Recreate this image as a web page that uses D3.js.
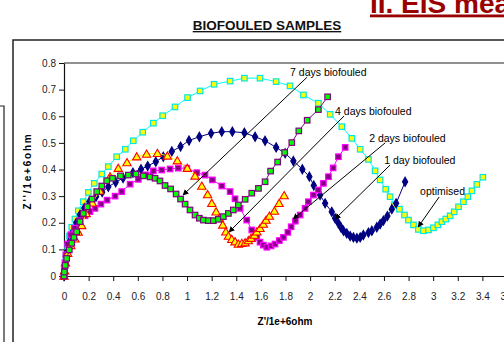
<!DOCTYPE html>
<html>
<head>
<meta charset="utf-8">
<script src="https://cdn.jsdelivr.net/npm/d3@7"></script>
<style>
  html, body { margin: 0; padding: 0; background: #fff; }
  svg { display: block; font-family: "Liberation Sans", Arial, sans-serif; }
</style>
</head>
<body>
<svg id="chart" width="504" height="342"></svg>
<script>
// Nyquist data, Z' and Z'' in 1e+6 ohm
const optimised = [[0,0],[0.005,0.03],[0.015,0.07],[0.03,0.11],[0.045,0.15],[0.063,0.183],[0.089,0.214],[0.116,0.245],[0.157,0.279],[0.198,0.314],[0.246,0.348],[0.307,0.383],[0.36,0.411],[0.428,0.448],[0.498,0.476],[0.563,0.508],[0.64,0.54],[0.726,0.574],[0.802,0.602],[0.902,0.635],[1.004,0.67],[1.106,0.695],[1.22,0.72],[1.35,0.732],[1.466,0.743],[1.593,0.743],[1.724,0.73],[1.837,0.714],[1.946,0.68],[2.067,0.649],[2.163,0.607],[2.258,0.561],[2.339,0.517],[2.407,0.476],[2.474,0.438],[2.528,0.395],[2.569,0.361],[2.614,0.326],[2.65,0.298],[2.685,0.267],[2.726,0.251],[2.767,0.229],[2.799,0.21],[2.84,0.192],[2.88,0.175],[2.921,0.17],[2.962,0.173],[3.002,0.181],[3.038,0.192],[3.071,0.204],[3.103,0.214],[3.138,0.226],[3.171,0.241],[3.206,0.26],[3.246,0.279],[3.282,0.298],[3.315,0.32],[3.355,0.344],[3.404,0.371]];

const day1 = [[0,0],[0.004,0.02],[0.012,0.05],[0.025,0.09],[0.045,0.13],[0.07,0.165],[0.1,0.2],[0.13,0.23],[0.165,0.255],[0.206,0.279],[0.26,0.298],[0.31,0.315],[0.36,0.335],[0.42,0.352],[0.48,0.368],[0.56,0.388],[0.626,0.401],[0.68,0.413],[0.746,0.429],[0.807,0.448],[0.876,0.468],[0.947,0.486],[1.016,0.509],[1.1,0.523],[1.195,0.536],[1.282,0.542],[1.368,0.542],[1.466,0.538],[1.553,0.523],[1.634,0.508],[1.724,0.483],[1.797,0.461],[1.864,0.432],[1.937,0.401],[1.994,0.373],[2.03,0.34],[2.081,0.304],[2.122,0.273],[2.176,0.241],[2.203,0.217],[2.23,0.198],[2.25,0.183],[2.271,0.17],[2.298,0.16],[2.325,0.15],[2.352,0.145],[2.38,0.142],[2.407,0.145],[2.433,0.154],[2.474,0.163],[2.502,0.17],[2.542,0.183],[2.569,0.195],[2.596,0.208],[2.628,0.225],[2.664,0.251],[2.699,0.273],[2.772,0.354]];

const day2 = [[0,0],[0.003,0.02],[0.008,0.05],[0.015,0.08],[0.03,0.12],[0.055,0.155],[0.085,0.18],[0.13,0.208],[0.171,0.226],[0.211,0.242],[0.252,0.254],[0.3,0.27],[0.35,0.285],[0.415,0.3],[0.469,0.317],[0.537,0.345],[0.604,0.363],[0.665,0.38],[0.726,0.395],[0.794,0.398],[0.862,0.402],[0.929,0.405],[0.998,0.405],[1.079,0.388],[1.146,0.379],[1.206,0.361],[1.282,0.338],[1.35,0.317],[1.39,0.29],[1.431,0.254],[1.485,0.21],[1.526,0.173],[1.567,0.145],[1.593,0.127],[1.62,0.116],[1.648,0.108],[1.683,0.113],[1.715,0.12],[1.75,0.133],[1.783,0.145],[1.819,0.164],[1.846,0.185],[1.88,0.206],[1.919,0.229],[1.959,0.254],[1.986,0.279],[2.027,0.304],[2.067,0.323],[2.108,0.348],[2.149,0.373],[2.187,0.406],[2.23,0.448],[2.285,0.483]];

const day4 = [[0,0],[0.005,0.02],[0.012,0.05],[0.03,0.085],[0.055,0.115],[0.089,0.14],[0.115,0.165],[0.144,0.19],[0.18,0.235],[0.23,0.275],[0.29,0.32],[0.374,0.373],[0.441,0.405],[0.512,0.426],[0.591,0.448],[0.671,0.458],[0.759,0.461],[0.84,0.451],[0.921,0.433],[1.002,0.405],[1.065,0.376],[1.12,0.338],[1.167,0.306],[1.201,0.273],[1.236,0.241],[1.262,0.217],[1.29,0.192],[1.315,0.166],[1.336,0.15],[1.363,0.138],[1.39,0.129],[1.417,0.12],[1.445,0.123],[1.472,0.125],[1.498,0.133],[1.52,0.142],[1.547,0.154],[1.567,0.166],[1.593,0.179],[1.62,0.195],[1.642,0.21],[1.669,0.225],[1.71,0.244],[1.748,0.273],[1.789,0.302]];

const day7 = [[0,0],[0.003,0.015],[0.01,0.04],[0.022,0.066],[0.043,0.098],[0.063,0.123],[0.081,0.145],[0.103,0.166],[0.13,0.204],[0.157,0.235],[0.189,0.26],[0.228,0.289],[0.266,0.317],[0.307,0.338],[0.347,0.358],[0.394,0.367],[0.459,0.376],[0.523,0.379],[0.585,0.383],[0.645,0.376],[0.7,0.372],[0.74,0.367],[0.78,0.357],[0.821,0.34],[0.866,0.327],[0.911,0.308],[0.947,0.289],[0.984,0.27],[1.024,0.248],[1.065,0.229],[1.1,0.217],[1.133,0.21],[1.173,0.208],[1.214,0.208],[1.254,0.213],[1.295,0.223],[1.336,0.235],[1.376,0.248],[1.417,0.267],[1.472,0.288],[1.526,0.311],[1.58,0.329],[1.634,0.354],[1.679,0.394],[1.736,0.428],[1.793,0.464],[1.851,0.501],[1.908,0.545],[1.976,0.585],[2.067,0.625],[2.142,0.673]];

const xTicks = [0,0.2,0.4,0.6,0.8,1,1.2,1.4,1.6,1.8,2,2.2,2.4,2.6,2.8,3,3.2,3.4,3.6];
const yTicks = [0,0.1,0.2,0.3,0.4,0.5,0.6,0.7,0.8];

// annotation text anchor [x, y] and arrow [from, to], data units
const noteLabels = ['7 days biofouled', '4 days biofouled', '2 days biofouled', '1 day biofouled', 'optimised'];
const noteText = [[1.837,0.766],[2.203,0.62],[2.48,0.518],[2.602,0.436],[2.894,0.317]];
const noteFrom = [[1.976,0.747],[2.276,0.601],[2.61,0.5],[2.65,0.417],[3.049,0.297]];
const noteTo = [[0.967,0.304],[1.341,0.165],[1.862,0.214],[2.203,0.214],[2.878,0.184]];

const svg = d3.select('#chart');

// slide frame bits
svg.append('path').attr('d', 'M0,106H4V342').attr('fill', 'none').attr('stroke', '#222').attr('stroke-width', 1.2);
svg.append('path').attr('d', 'M13,342V40H504').attr('fill', 'none').attr('stroke', '#222').attr('stroke-width', 1.5);

svg.append('text')
  .attr('x', 370).attr('y', 12.5)
  .attr('fill', '#990000')
  .style('font-size', '28px').style('font-weight', 'bold')
  .style('text-decoration', 'underline')
  .text('II. EIS measurements');

svg.append('text')
  .attr('x', 267).attr('y', 30)
  .attr('text-anchor', 'middle')
  .attr('fill', '#111')
  .style('font-size', '13.5px').style('font-weight', 'bold')
  .style('text-decoration', 'underline')
  .text('BIOFOULED SAMPLES');

const x = d3.scaleLinear().domain([0, 3.6]).range([64, 507]);
const y = d3.scaleLinear().domain([0, 0.8]).range([276, 63]);

// plot area top edge
svg.append('line')
  .attr('x1', x(0)).attr('x2', x(3.6))
  .attr('y1', y(0.8)).attr('y2', y(0.8))
  .attr('stroke', '#222').attr('stroke-width', 1.2);

const xAxis = svg.append('g')
  .attr('transform', `translate(0,${y(0)})`)
  .call(d3.axisBottom(x).tickValues(xTicks).tickSize(5).tickSizeOuter(0).tickPadding(12)
    .tickFormat(d => String(+d.toFixed(1))));
const yAxis = svg.append('g')
  .attr('transform', `translate(${x(0)},0)`)
  .call(d3.axisLeft(y).tickValues(yTicks).tickSize(5).tickSizeOuter(0).tickPadding(3)
    .tickFormat(d => String(+d.toFixed(1))));
[xAxis, yAxis].forEach(a => {
  a.select('.domain').attr('stroke', '#111').attr('stroke-width', 1.2);
  a.selectAll('.tick line').attr('stroke', '#111');
  a.selectAll('.tick text').attr('fill', '#222')
    .style('font-size', '10px').style('font-family', '"Liberation Sans", Arial, sans-serif');
});

svg.append('text')
  .attr('x', 285).attr('y', 325)
  .attr('text-anchor', 'middle')
  .style('font-size', '10px').style('font-weight', 'bold')
  .text("Z'/1e+6ohm");

svg.append('text')
  .attr('transform', 'translate(31,171) rotate(-90)')
  .attr('text-anchor', 'middle')
  .style('font-size', '10px').style('font-weight', 'bold')
  .style('letter-spacing', '1.8px')
  .text("Z''/1e+6ohm");

const line = d3.line().x(d => x(d[0])).y(d => y(d[1]));

const series = [
  { pts: optimised, line: '#00FFFF', fill: '#FFFF00', stroke: '#00E5E5', shape: 'square', size: 5.5 },
  { pts: day1, line: '#000080', fill: '#000080', stroke: '#000080', shape: 'diamond', size: 6 },
  { pts: day2, line: '#FF00FF', fill: '#800080', stroke: '#FF00FF', shape: 'square', size: 5.5 },
  { pts: day4, line: '#FFFF00', fill: '#FFFF00', stroke: '#FF0000', shape: 'triangle', size: 7 },
  { pts: day7, line: '#800080', fill: '#00FF00', stroke: '#800080', shape: 'square', size: 5.5 }
];

series.forEach(s => {
  const g = svg.append('g');
  g.append('path').datum(s.pts)
    .attr('fill', 'none').attr('stroke', s.line).attr('stroke-width', 1)
    .attr('d', line);
  if (s.shape === 'square') {
    g.selectAll('rect').data(s.pts).join('rect')
      .attr('x', d => x(d[0]) - s.size / 2).attr('y', d => y(d[1]) - s.size / 2)
      .attr('width', s.size).attr('height', s.size)
      .attr('fill', s.fill).attr('stroke', s.stroke).attr('stroke-width', 1.2);
  } else {
    const sym = d3.symbol()
      .type(s.shape === 'diamond' ? d3.symbolDiamond : d3.symbolTriangle)
      .size(s.shape === 'diamond' ? 24 : 30);
    g.selectAll('path.m').data(s.pts).join('path')
      .attr('class', 'm')
      .attr('transform', d => `translate(${x(d[0])},${y(d[1]) + (s.shape === 'triangle' ? 0.8 : 0)})`)
      .attr('d', sym)
      .attr('fill', s.fill).attr('stroke', s.stroke).attr('stroke-width', 1.1);
  }
});

// annotations
svg.append('defs').append('marker')
  .attr('id', 'ah').attr('viewBox', '0 0 10 10')
  .attr('refX', 9).attr('refY', 5)
  .attr('markerWidth', 6).attr('markerHeight', 6)
  .attr('orient', 'auto')
  .append('path').attr('d', 'M0,0L10,5L0,10z').attr('fill', '#000');

const notes = svg.append('g');
noteLabels.forEach((label, i) => {
  notes.append('line')
    .attr('x1', x(noteFrom[i][0])).attr('y1', y(noteFrom[i][1]))
    .attr('x2', x(noteTo[i][0])).attr('y2', y(noteTo[i][1]))
    .attr('stroke', '#000').attr('stroke-width', 1)
    .attr('marker-end', 'url(#ah)');
  notes.append('text')
    .attr('x', x(noteText[i][0])).attr('y', y(noteText[i][1]))
    .attr('dy', '0.35em')
    .attr('fill', '#000')
    .style('font-size', '10.5px')
    .text(label);
});
</script>
</body>
</html>
